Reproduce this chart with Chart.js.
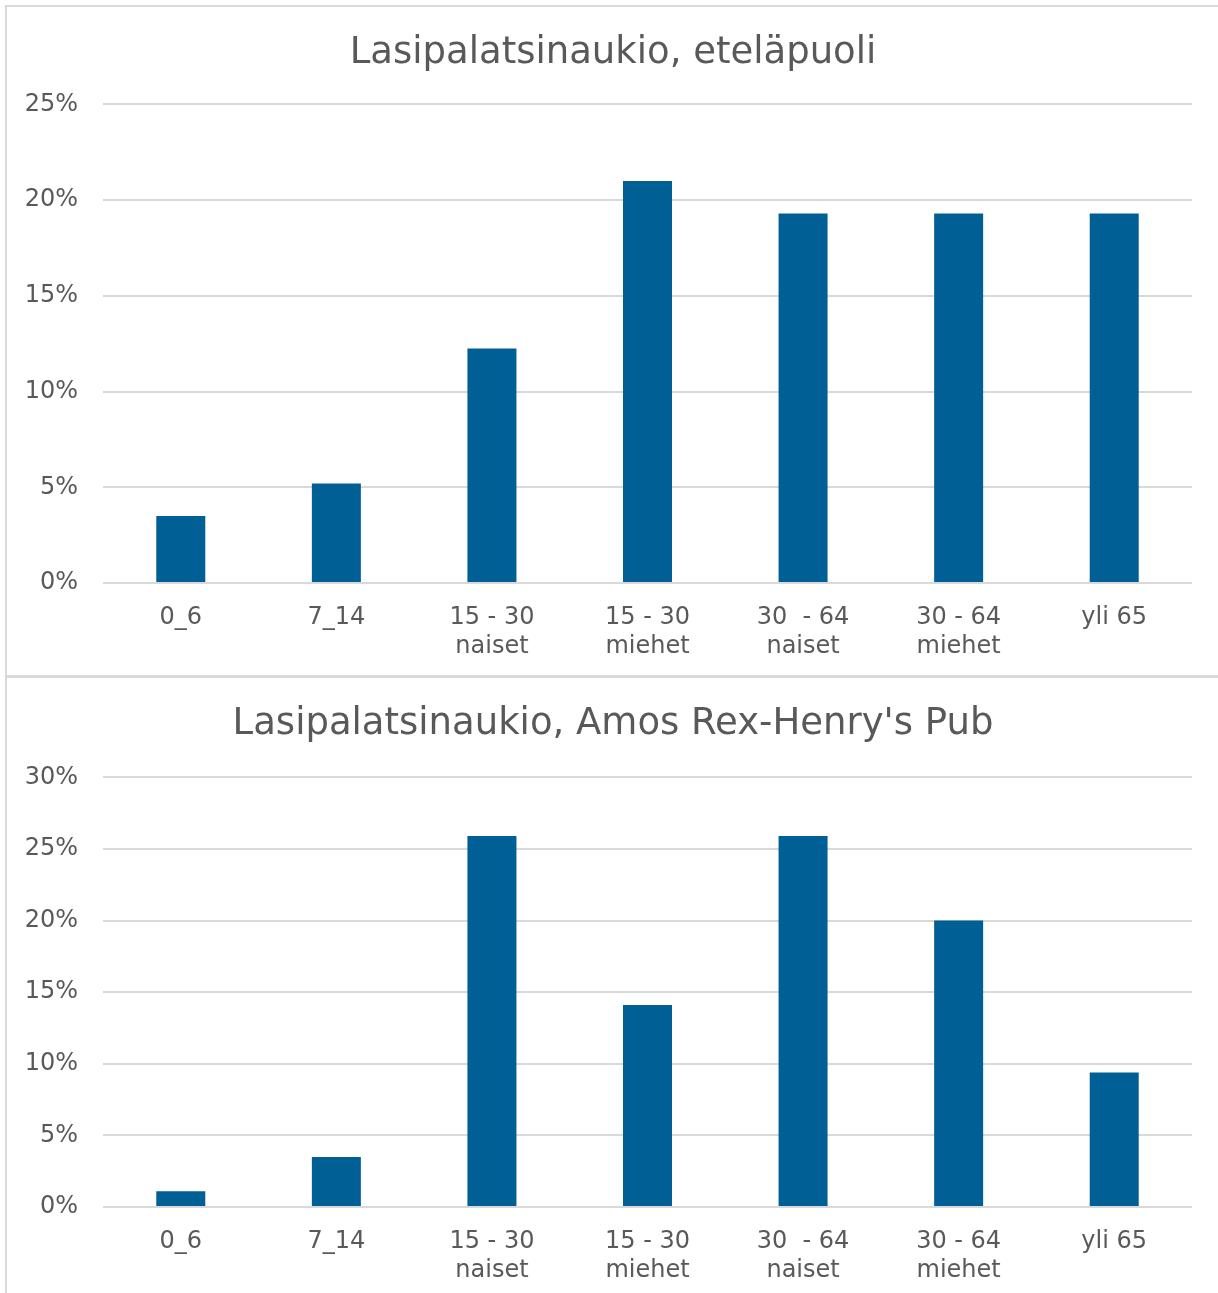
<html lang="fi">
<head>
    <meta charset="UTF-8">
    <title>Lasipalatsinaukio</title>
    <script src="https://cdn.jsdelivr.net/npm/chart.js"></script>
    <style>
        body {
            margin: 0;
            overflow: hidden;
            background: #ffffff;
            font-family: "DejaVu Sans", Verdana, sans-serif;
        }
        .box {
            position: absolute;
            left: 5px;
            width: 1212px;
            border-left: 2px solid #d9d9d9;
            border-top: 2px solid #d9d9d9;
        }
        #box1 {
            top: 5px;
            height: 668px;
            border-bottom: 2px solid #d9d9d9;
        }
        #box2 {
            top: 677px;
            height: 621px;
            border-top: 1px solid #d9d9d9;
        }
    </style>
</head>
<body>
    <div class="box" id="box1"><canvas id="chart1"></canvas></div>
    <div class="box" id="box2"><canvas id="chart2"></canvas></div>

    <script>
        const categories = [
            '0_6',
            '7_14',
            ['15 - 30', 'naiset'],
            ['15 - 30', 'miehet'],
            ['30  - 64', 'naiset'],
            ['30 - 64', 'miehet'],
            'yli 65'
        ];

        const title1 = 'Lasipalatsinaukio, eteläpuoli';
        const values1 = [3.5, 5.2, 12.25, 21.0, 19.3, 19.3, 19.3];
        const max1 = 25;

        const title2 = "Lasipalatsinaukio, Amos Rex-Henry's Pub";
        const values2 = [1.1, 3.5, 25.9, 14.1, 25.9, 20.0, 9.4];
        const max2 = 30;

        const textColor = '#595959';
        const barColor = '#005f94';
        const gridColor = '#d9d9d9';
        const fontFamily = '"DejaVu Sans", Verdana, sans-serif';

        function makeChart(id, title, values, maxY, titlePad) {
            const ctx = document.getElementById(id).getContext('2d');
            return new Chart(ctx, {
                type: 'bar',
                data: {
                    labels: categories,
                    datasets: [{
                        data: values,
                        backgroundColor: barColor,
                        borderWidth: 0,
                        categoryPercentage: 1,
                        barPercentage: 0.315
                    }]
                },
                options: {
                    responsive: true,
                    maintainAspectRatio: false,
                    animation: false,
                    layout: { padding: 0 },
                    plugins: {
                        legend: { display: false },
                        tooltip: { enabled: false },
                        title: {
                            display: true,
                            text: title,
                            color: textColor,
                            font: { family: fontFamily, size: 37, weight: 'normal', lineHeight: 1.2 },
                            padding: titlePad
                        }
                    },
                    scales: {
                        y: {
                            min: 0,
                            max: maxY,
                            border: { display: false },
                            grid: { color: gridColor, lineWidth: 2, drawTicks: false },
                            ticks: {
                                stepSize: 5,
                                padding: 25,
                                color: textColor,
                                font: { family: fontFamily, size: 24 },
                                callback: v => v + '%'
                            },
                            afterFit: scale => { scale.width = 96; }
                        },
                        // empty right margin so the title centres over the whole box
                        yRight: {
                            position: 'right',
                            min: 0,
                            max: maxY,
                            border: { display: false },
                            grid: { display: false, drawTicks: false },
                            ticks: { display: false },
                            afterFit: scale => { scale.width = 27; }
                        },
                        x: {
                            border: { display: false },
                            grid: { display: false, drawTicks: false },
                            ticks: {
                                padding: 20,
                                maxRotation: 0,
                                autoSkip: false,
                                color: textColor,
                                font: { family: fontFamily, size: 24, lineHeight: 1.22 }
                            },
                            afterFit: scale => { scale.height = 92; }
                        }
                    }
                }
            });
        }

        makeChart('chart1', title1, values1, max1, { top: 24, bottom: 29 });
        makeChart('chart2', title2, values2, max2, { top: 24, bottom: 31 });
    </script>
</body>
</html>
